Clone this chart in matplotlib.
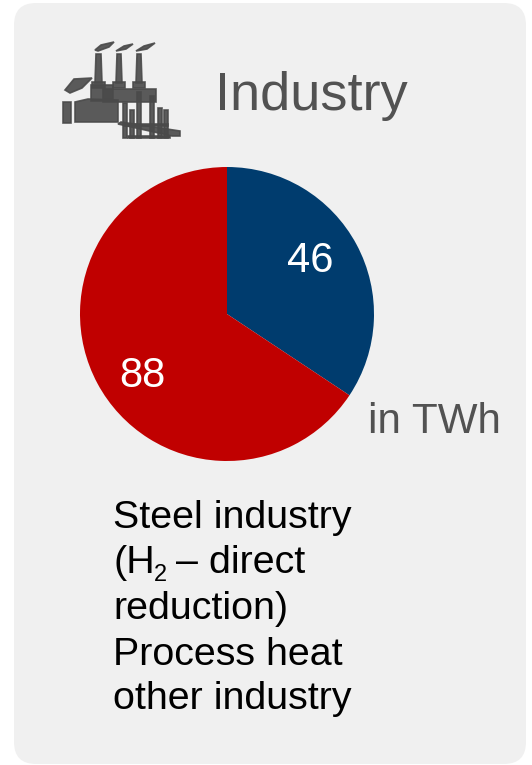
import matplotlib
matplotlib.use('Agg')
import matplotlib.pyplot as plt
from matplotlib.patches import FancyBboxPatch, Polygon, Rectangle

plt.rcParams['font.family'] = ['Liberation Sans', 'DejaVu Sans']

# data
values = [46, 88]
value_labels = ['46', '88']
colors = ['#003C6E', '#C00000']
title = 'Industry'
unit = 'in TWh'
legend_lines = ['Steel industry', '(H', 'reduction)', 'Process heat', 'other industry']
legend_y = [528, 573, 619, 665, 709]

W, H = 532, 765
ICON = '#4a4a4a'
TEXT_GREY = '#525252'


def Y(y):
    # picture rows run downwards, the axes upwards
    return H - y


def draw_icon(ax):
    # factory icon, rough shapes only
    kw = dict(fc=ICON, ec=ICON, lw=1.2, alpha=0.9)
    for x0, x1 in [(95, 102), (116, 122), (136, 142)]:
        ax.add_patch(Polygon([(x0, Y(83)), (x0 + 1, Y(54)), (x1 - 1, Y(54)), (x1, Y(83))], **kw))
        ax.add_patch(Rectangle((x0 - 3, Y(88)), x1 - x0 + 6, 6, **kw))
    ax.add_patch(Polygon([(95, Y(50)), (101, Y(45)), (114, Y(42)), (109, Y(47)), (98, Y(51))], **kw))
    ax.add_patch(Polygon([(116, Y(51)), (124, Y(46)), (133, Y(44)), (126, Y(49))], **kw))
    ax.add_patch(Polygon([(136, Y(51)), (144, Y(46)), (155, Y(43)), (147, Y(49))], **kw))
    ax.add_patch(Polygon([(65, Y(90)), (74, Y(79)), (92, Y(78)), (82, Y(88)), (70, Y(93))], **kw))
    ax.add_patch(Rectangle((91, Y(101)), 22, 16, **kw))
    ax.add_patch(Rectangle((103, Y(102)), 53, 13, **kw))
    ax.add_patch(Polygon([(75, Y(122)), (75, Y(102)), (88, Y(99)), (118, Y(100)), (118, Y(122))], **kw))
    ax.add_patch(Rectangle((63, Y(123)), 8, 21, **kw))
    for x0, y0 in [(123, 103), (130, 110), (137, 92), (150, 96), (158, 108), (164, 110)]:
        ax.add_patch(Rectangle((x0, Y(138)), 4, 138 - y0, **kw))
    ax.add_patch(Polygon([(118, Y(124)), (121, Y(122)), (180, Y(131)), (180, Y(136)), (172, Y(136))], **kw))
    ax.add_patch(Rectangle((128, Y(138)), 42, 2.5, **kw))
    ax.add_patch(Rectangle((124, Y(126)), 44, 2.5, **kw))


fig = plt.figure(figsize=(W / 100, H / 100), dpi=100)
ax = fig.add_axes([0, 0, 1, 1])

ax.add_patch(FancyBboxPatch((36, Y(742)), 468, 717, boxstyle='round,pad=22,rounding_size=22',
                            fc='#F0F0F0', ec='none', zorder=0))

wedges, _ = ax.pie(values, colors=colors, startangle=90, counterclock=False,
                   center=(227, Y(314)), radius=147, frame=True,
                   wedgeprops=dict(linewidth=0))

ax.text(310, Y(272), value_labels[0], color='white', fontsize=30, ha='center', va='baseline')
ax.text(142, Y(387), value_labels[1], color='white', fontsize=30, ha='center', va='baseline')

draw_icon(ax)

ax.text(215, Y(110), title, color=TEXT_GREY, fontsize=39, ha='left', va='baseline')
ax.text(368, Y(433), unit, color=TEXT_GREY, fontsize=30.3, ha='left', va='baseline')

for line, y in zip(legend_lines, legend_y):
    ax.text(113, Y(y), line, color='black', fontsize=28.4, ha='left', va='baseline')

# the H2 line is set in pieces, subscript sits lower than mathtext puts it
ax.text(154, Y(581), '2', color='black', fontsize=17, ha='left', va='baseline')
ax.text(176, Y(legend_y[1]), '– direct', color='black', fontsize=28.4, ha='left', va='baseline')

ax.set_xlim(0, W)
ax.set_ylim(0, H)
ax.axis('off')

fig.savefig('out.png', dpi=100, facecolor='white')
